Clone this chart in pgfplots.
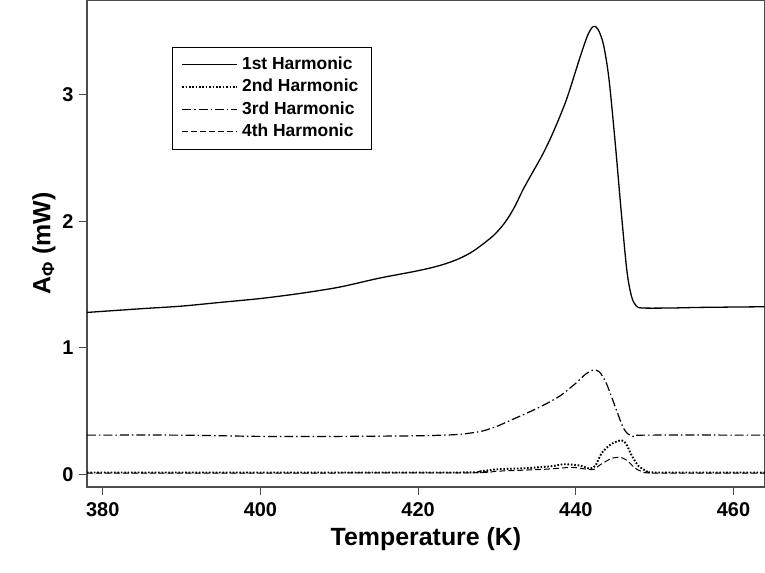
\documentclass[border=0pt]{standalone}
\usepackage{fontspec}
\setmainfont{Liberation Sans}
\usepackage{pgfplots}
\pgfplotsset{compat=1.18}
\begin{document}
\begin{tikzpicture}
\begin{axis}[
  name=ax,
  scale only axis,
  width=678bp, height=487bp,
  xmin=378, xmax=464,
  ymin=-0.1, ymax=3.75,
  xtick={380,400,420,440,460},
  ytick={0,1,2,3},
  tick align=outside,
  major tick length=8bp,
  tick style={line width=1pt, color=black!70},
  axis line style={line width=1.3pt, color=black!70},
  x tick label style={font=\bfseries\fontsize{20}{24}\selectfont, yshift=-4bp},
  y tick label style={font=\bfseries\fontsize{20}{24}\selectfont, xshift=-2bp},
  /pgf/number format/assume math mode=true,
  xlabel={\bfseries\fontsize{25}{30}\selectfont Temperature (K)},
  ylabel={\bfseries\fontsize{25}{30}\selectfont A\textsubscript{Φ} (mW)},
  xlabel style={yshift=-4bp},
  legend style={at={(0.125,0.904)}, anchor=north west, draw=black, line width=0.9pt,
    font=\bfseries\fontsize{17.5}{19}\selectfont, row sep=0bp,
    inner xsep=9bp, inner ysep=6bp,
    nodes={inner ysep=3bp, inner xsep=4bp, text height=13bp, text depth=3.5bp}},
  legend cell align=left,
  legend image code/.code={\draw[#1] (0bp,0bp) -- (52bp,0bp); \path (0bp,0bp) -- (55bp,0bp);},
]
\addplot[black, line width=1.3pt, smooth, tension=0.5] coordinates {
(378,1.28) (385,1.31) (390,1.33) (395,1.36) (400,1.39) (405,1.43) (410,1.48)
(415,1.55) (420,1.61) (422.8,1.652) (425,1.70) (427,1.765) (429.5,1.885) (431,1.99)
(432.2,2.11) (433.3,2.25) (434.5,2.385) (435.8,2.53) (437.1,2.70) (438.8,2.96) (440.5,3.29) (441.5,3.47)
(442.2,3.54) (442.8,3.52) (443.5,3.40) (444.2,3.13) (445,2.62) (445.8,2.05)
(446.5,1.60) (447.1,1.40) (447.7,1.33) (448.5,1.315) (452,1.315) (456,1.32) (464,1.325)};
\addlegendentry{1st Harmonic}
\addplot[black, line width=1.9pt, dash pattern=on 1.6pt off 1.8pt, smooth, tension=0.4] coordinates {
(378,0.015) (425,0.015) (428,0.025) (430,0.04) (434,0.05) (437,0.065) (438.5,0.08)
(440.5,0.07) (441.8,0.045) (442.5,0.07) (443.3,0.17) (444.5,0.24) (445.8,0.27)
(446.4,0.24) (447,0.16) (447.9,0.07) (449,0.025) (450,0.015) (464,0.015)};
\addlegendentry{2nd Harmonic}
\addplot[black, line width=1.2pt, dash pattern=on 9pt off 3pt on 1.5pt off 3pt, smooth, tension=0.4] coordinates {
(378,0.31) (390,0.31) (400,0.30) (410,0.30) (420,0.305) (425,0.315) (428,0.34)
(430,0.38) (432,0.435) (434,0.49) (436,0.55) (438,0.62) (440,0.72) (441.2,0.79)
(442.2,0.825) (443,0.81) (443.8,0.73) (444.5,0.62) (445.2,0.50) (446,0.37)
(446.6,0.32) (447.3,0.30) (448.5,0.31) (464,0.31)};
\addlegendentry{3rd Harmonic}
\addplot[black, line width=1pt, dash pattern=on 6pt off 3pt, smooth, tension=0.4] coordinates {
(378,0.01) (425,0.012) (430,0.025) (436,0.04) (439.5,0.055) (441.5,0.04) (442.3,0.04)
(443.2,0.08) (444.5,0.125) (445.6,0.135) (446.5,0.11) (447.5,0.05) (448.5,0.02)
(450,0.01) (464,0.01)};
\addlegendentry{4th Harmonic}
\end{axis}
\pgfresetboundingbox
\path ([xshift=-87bp,yshift=-85bp]ax.south west) rectangle (ax.north east);
\end{tikzpicture}
\end{document}
